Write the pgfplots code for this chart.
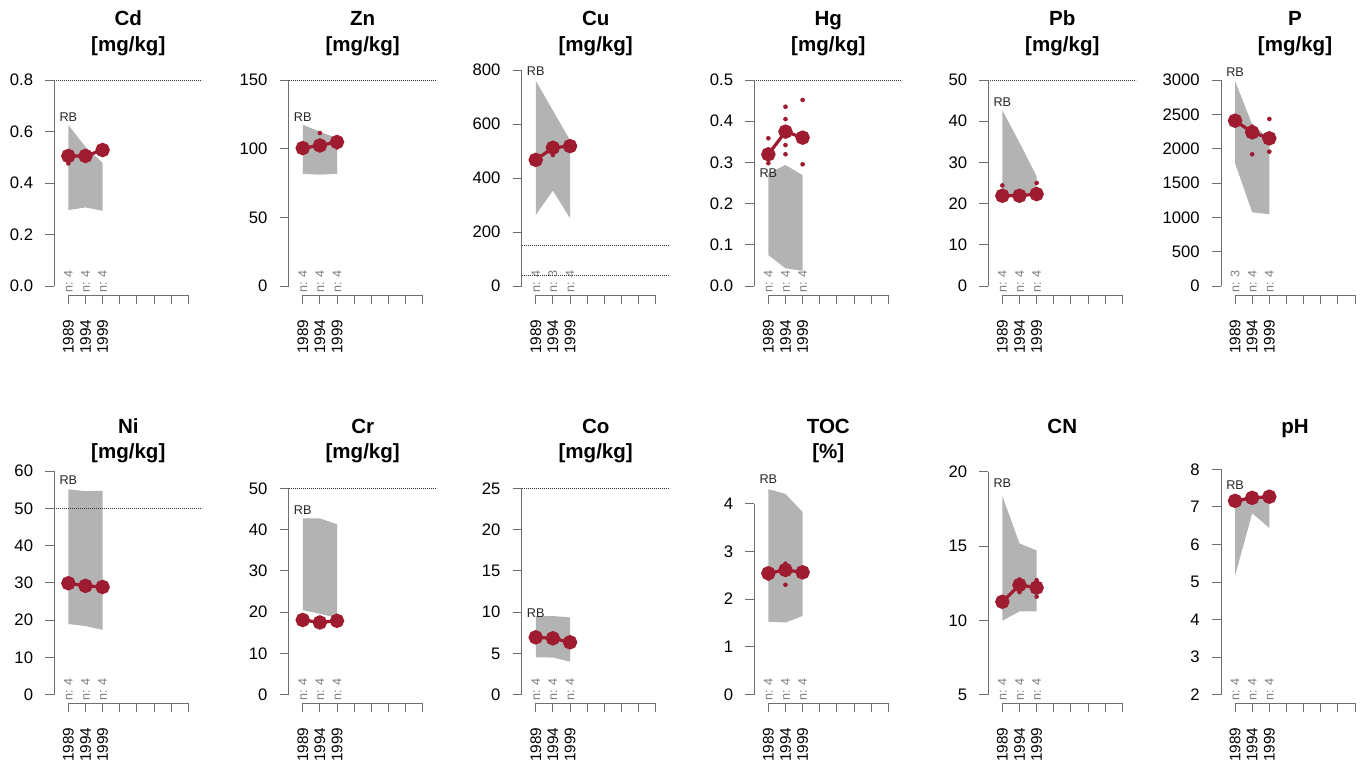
\documentclass[border=0pt]{standalone}
\usepackage{fontspec}
\setmainfont{Liberation Sans}
\usepackage{pgfplots}
\pgfplotsset{compat=1.18}
\definecolor{dotred}{RGB}{158,27,48}
\definecolor{bandgray}{RGB}{179,179,179}
\definecolor{axgray}{RGB}{110,110,110}
\definecolor{ngray}{RGB}{125,125,125}
\pgfplotsset{
  panel/.style={
    scale only axis, width=111pt, clip=false, anchor=south west,
    xmin=0.18, xmax=8.82,
    axis line style={draw=none},
    tick pos=left, tick align=outside,
    major tick length=6.75pt,
    tick style={axgray, line width=0.6pt},
    xtick={1,2,3,4,5,6,7,8},
    xticklabels={1989,1994,1999,{},{},{},{},{}},
    xticklabel style={rotate=90, anchor=east, inner sep=0pt, xshift=-11.25pt, font=\fontsize{11.5}{13}\selectfont},
    yticklabel style={anchor=east, inner sep=0pt, xshift=-9pt, font=\fontsize{12.5}{14}\selectfont},
    /pgf/number format/assume math mode=true,
    /pgf/number format/1000 sep={},
    scaled ticks=false,
  },
  bandst/.style={fill=bandgray, draw=none},
  meanst/.style={dotred, line width=2.4pt, mark=*, mark size=4.2pt, mark options={draw=none, fill=dotred}},
  indst/.style={only marks, mark=*, mark size=1.5pt, dotred, mark options={draw=none, fill=dotred}},
  thrst/.style={black!80, line width=0.5pt, dash pattern=on 0.75pt off 0.75pt},
}
\tikzset{
  nl/.style={yshift=1.95pt, rotate=90, anchor=west, inner sep=0pt, text=ngray, font=\fontsize{9.4}{10}\selectfont},
  rb/.style={inner sep=0pt, text=black!85, font=\fontsize{9.5}{11}\selectfont},
  ttl/.style={anchor=base, inner sep=0pt, font=\bfseries\fontsize{15.4}{18}\selectfont},
}
\newcommand{\axlines}[2]{%
  \draw[axgray, line width=0.6pt] ({rel axis cs:0,0} |- {axis cs:1,#1}) -- ({rel axis cs:0,0} |- {axis cs:1,#2});
  \draw[axgray, line width=0.6pt] ({axis cs:1,#1} |- {rel axis cs:0,0}) -- ({axis cs:8,#1} |- {rel axis cs:0,0});
}
\newcommand{\nlab}[3]{%
  \node[nl] at ({axis cs:1,0} |- {rel axis cs:0,0}) {n: #1};
  \node[nl] at ({axis cs:2,0} |- {rel axis cs:0,0}) {n: #2};
  \node[nl] at ({axis cs:3,0} |- {rel axis cs:0,0}) {n: #3};
}
\begin{document}
\begin{tikzpicture}[x=0.75pt,y=0.75pt]
\useasboundingbox (0,0) rectangle (1363,764);
% ---------- Row 1 ----------
% Cd
\begin{axis}[panel, at={(40.725pt,351.525pt)}, height=161.5pt,
  ymin=-0.0361, ymax=0.8, ytick={0,0.2,0.4,0.6,0.8},
  yticklabel style={/pgf/number format/fixed, /pgf/number format/fixed zerofill, /pgf/number format/precision=1}]
\addplot[bandst] coordinates {(1,0.625)(2,0.54)(3,0.478)(3,0.292)(2,0.305)(1,0.295)} -- cycle;
\addplot[thrst] coordinates {(0.18,0.8)(8.82,0.8)};
\addplot[meanst] coordinates {(1,0.505)(2,0.505)(3,0.528)};
\addplot[indst] coordinates {(1,0.476)};
\axlines{0}{0.8}
\nlab{4}{4}{4}
\node[rb] at (axis cs:1,0.654) {RB};
\end{axis}
\node[ttl] at (128.3,738) {Cd};
\node[ttl] at (128.3,712.5) {[mg/kg]};
% Zn
\begin{axis}[panel, at={(216.525pt,351.525pt)}, height=161.5pt,
  ymin=-6.77, ymax=150, ytick={0,50,100,150}]
\addplot[bandst] coordinates {(1,117.4)(2,112.3)(3,107.7)(3,81.7)(2,81)(1,81.7)} -- cycle;
\addplot[thrst] coordinates {(0.18,150)(8.82,150)};
\addplot[meanst] coordinates {(1,100.4)(2,102.3)(3,104.8)};
\addplot[indst] coordinates {(2,111.4)(3,100.9)};
\axlines{0}{150}
\nlab{4}{4}{4}
\node[rb] at (axis cs:1,122.9) {RB};
\end{axis}
\node[ttl] at (362.7,738) {Zn};
\node[ttl] at (362.7,712.5) {[mg/kg]};
% Cu
\begin{axis}[panel, at={(391.275pt,351.525pt)}, height=169pt,
  ymin=-34.44, ymax=800, ytick={0,200,400,600,800}]
\addplot[bandst] coordinates {(1,760)(2,650)(3,540)(3,251)(2,353)(1,263)} -- cycle;
\addplot[thrst] coordinates {(0.18,150)(8.82,150)};
\addplot[thrst] coordinates {(0.18,40)(8.82,40)};
\addplot[meanst] coordinates {(1,467)(2,512)(3,518)};
\addplot[indst] coordinates {(2,485)};
\axlines{0}{800}
\nlab{4}{3}{4}
\node[rb] at (axis cs:1,795) {RB};
\end{axis}
\node[ttl] at (595.7,738) {Cu};
\node[ttl] at (595.7,712.5) {[mg/kg]};
% Hg
\begin{axis}[panel, at={(565.725pt,351.525pt)}, height=161.5pt,
  ymin=-0.02257, ymax=0.5, ytick={0,0.1,0.2,0.3,0.4,0.5},
  yticklabel style={/pgf/number format/fixed, /pgf/number format/fixed zerofill, /pgf/number format/precision=1}]
\addplot[bandst] coordinates {(1,0.2735)(2,0.2937)(3,0.269)(3,0.037)(2,0.043)(1,0.0752)} -- cycle;
\addplot[thrst] coordinates {(0.18,0.5)(8.82,0.5)};
\addplot[meanst] coordinates {(1,0.3196)(2,0.3746)(3,0.360)};
\addplot[indst] coordinates {(1,0.3585)(1,0.298)(2,0.435)(2,0.405)(2,0.342)(2,0.3197)(3,0.4515)(3,0.2953)};
\axlines{0}{0.5}
\nlab{4}{4}{4}
\node[rb] at (axis cs:1,0.2735) {RB};
\end{axis}
\node[ttl] at (828.3,738) {Hg};
\node[ttl] at (828.3,712.5) {[mg/kg]};
% Pb
\begin{axis}[panel, at={(741.225pt,351.525pt)}, height=161.5pt,
  ymin=-2.257, ymax=50, ytick={0,10,20,30,40,50}]
\addplot[bandst] coordinates {(1,42.6)(2,34.8)(3,26.6)(3,22.3)(2,22.0)(1,22.0)} -- cycle;
\addplot[thrst] coordinates {(0.18,50)(8.82,50)};
\addplot[meanst] coordinates {(1,21.9)(2,21.9)(3,22.3)};
\addplot[indst] coordinates {(1,24.4)(3,25.0)};
\axlines{0}{50}
\nlab{4}{4}{4}
\node[rb] at (axis cs:1,44.55) {RB};
\end{axis}
\node[ttl] at (1062.3,738) {Pb};
\node[ttl] at (1062.3,712.5) {[mg/kg]};
% P
\begin{axis}[panel, at={(915.75pt,351.525pt)}, height=161.5pt,
  ymin=-135.4, ymax=3000, ytick={0,500,1000,1500,2000,2500,3000}]
\addplot[bandst] coordinates {(1,2985)(2,2350)(3,2150)(3,1044)(2,1073)(1,1787)} -- cycle;
\addplot[meanst] coordinates {(1,2407)(2,2238)(3,2150)};
\addplot[indst] coordinates {(2,2320)(2,1918)(3,2432)(3,1956)};
\axlines{0}{3000}
\nlab{3}{4}{4}
\node[rb] at (axis cs:1,3121) {RB};
\end{axis}
\node[ttl] at (1295,738) {P};
\node[ttl] at (1295,712.5) {[mg/kg]};
% ---------- Row 2 ----------
% Ni
\begin{axis}[panel, at={(40.725pt,45.525pt)}, height=174.2pt,
  ymin=-2.307, ymax=60, ytick={0,10,20,30,40,50,60}]
\addplot[bandst] coordinates {(1,55.1)(2,54.6)(3,54.7)(3,17.4)(2,18.4)(1,18.96)} -- cycle;
\addplot[thrst] coordinates {(0.18,50)(8.82,50)};
\addplot[meanst] coordinates {(1,29.9)(2,29.2)(3,28.9)};
\axlines{0}{60}
\nlab{4}{4}{4}
\node[rb] at (axis cs:1,57.6) {RB};
\end{axis}
\node[ttl] at (128.3,330.5) {Ni};
\node[ttl] at (128.3,305) {[mg/kg]};
% Cr
\begin{axis}[panel, at={(216.525pt,45.525pt)}, height=161.25pt,
  ymin=-2.083, ymax=50, ytick={0,10,20,30,40,50}]
\addplot[bandst] coordinates {(1,42.7)(2,42.7)(3,41.3)(3,18.6)(2,19.6)(1,20.5)} -- cycle;
\addplot[thrst] coordinates {(0.18,50)(8.82,50)};
\addplot[meanst] coordinates {(1,18.1)(2,17.5)(3,17.9)};
\axlines{0}{50}
\nlab{4}{4}{4}
\node[rb] at (axis cs:1,44.67) {RB};
\end{axis}
\node[ttl] at (362.7,330.5) {Cr};
\node[ttl] at (362.7,305) {[mg/kg]};
% Co
\begin{axis}[panel, at={(391.275pt,45.525pt)}, height=161.25pt,
  ymin=-1.042, ymax=25, ytick={0,5,10,15,20,25}]
\addplot[bandst] coordinates {(1,9.53)(2,9.53)(3,9.37)(3,4.0)(2,4.5)(1,4.53)} -- cycle;
\addplot[thrst] coordinates {(0.18,25)(8.82,25)};
\addplot[meanst] coordinates {(1,6.95)(2,6.83)(3,6.35)};
\axlines{0}{25}
\nlab{4}{4}{4}
\node[rb] at (axis cs:1,9.86) {RB};
\end{axis}
\node[ttl] at (595.7,330.5) {Co};
\node[ttl] at (595.7,305) {[mg/kg]};
% TOC
\begin{axis}[panel, at={(565.725pt,45.525pt)}, height=149.85pt,
  ymin=-0.18, ymax=4, ytick={0,1,2,3,4}]
\addplot[bandst] coordinates {(1,4.30)(2,4.20)(3,3.82)(3,1.646)(2,1.51)(1,1.527)} -- cycle;
\addplot[meanst] coordinates {(1,2.54)(2,2.61)(3,2.56)};
\addplot[indst] coordinates {(1,2.43)(2,2.30)(2,2.74)};
\axlines{0}{4}
\nlab{4}{4}{4}
\node[rb] at (axis cs:1,4.506) {RB};
\end{axis}
\node[ttl] at (828.3,330.5) {TOC};
\node[ttl] at (828.3,305) {[\%]};
% CN
\begin{axis}[panel, at={(741.225pt,45.525pt)}, height=173.7pt,
  ymin=4.4215, ymax=20, ytick={5,10,15,20}]
\addplot[bandst] coordinates {(1,18.36)(2,15.18)(3,14.7)(3,10.6)(2,10.6)(1,9.98)} -- cycle;
\addplot[meanst] coordinates {(1,11.25)(2,12.38)(3,12.2)};
\addplot[indst] coordinates {(2,12.75)(2,11.9)(3,12.7)(3,11.6)};
\axlines{5}{20}
\nlab{4}{4}{4}
\node[rb] at (axis cs:1,19.22) {RB};
\end{axis}
\node[ttl] at (1062.3,330.5) {CN};
% pH
\begin{axis}[panel, at={(915.75pt,45.525pt)}, height=175.5pt,
  ymin=1.771, ymax=8, ytick={2,3,4,5,6,7,8}]
\addplot[bandst] coordinates {(1,7.22)(2,7.27)(3,7.28)(3,6.44)(2,6.83)(1,5.16)} -- cycle;
\addplot[meanst] coordinates {(1,7.16)(2,7.24)(3,7.27)};
\axlines{2}{8}
\nlab{4}{4}{4}
\node[rb] at (axis cs:1,7.59) {RB};
\end{axis}
\node[ttl] at (1295,330.5) {pH};
\end{tikzpicture}
\end{document}
